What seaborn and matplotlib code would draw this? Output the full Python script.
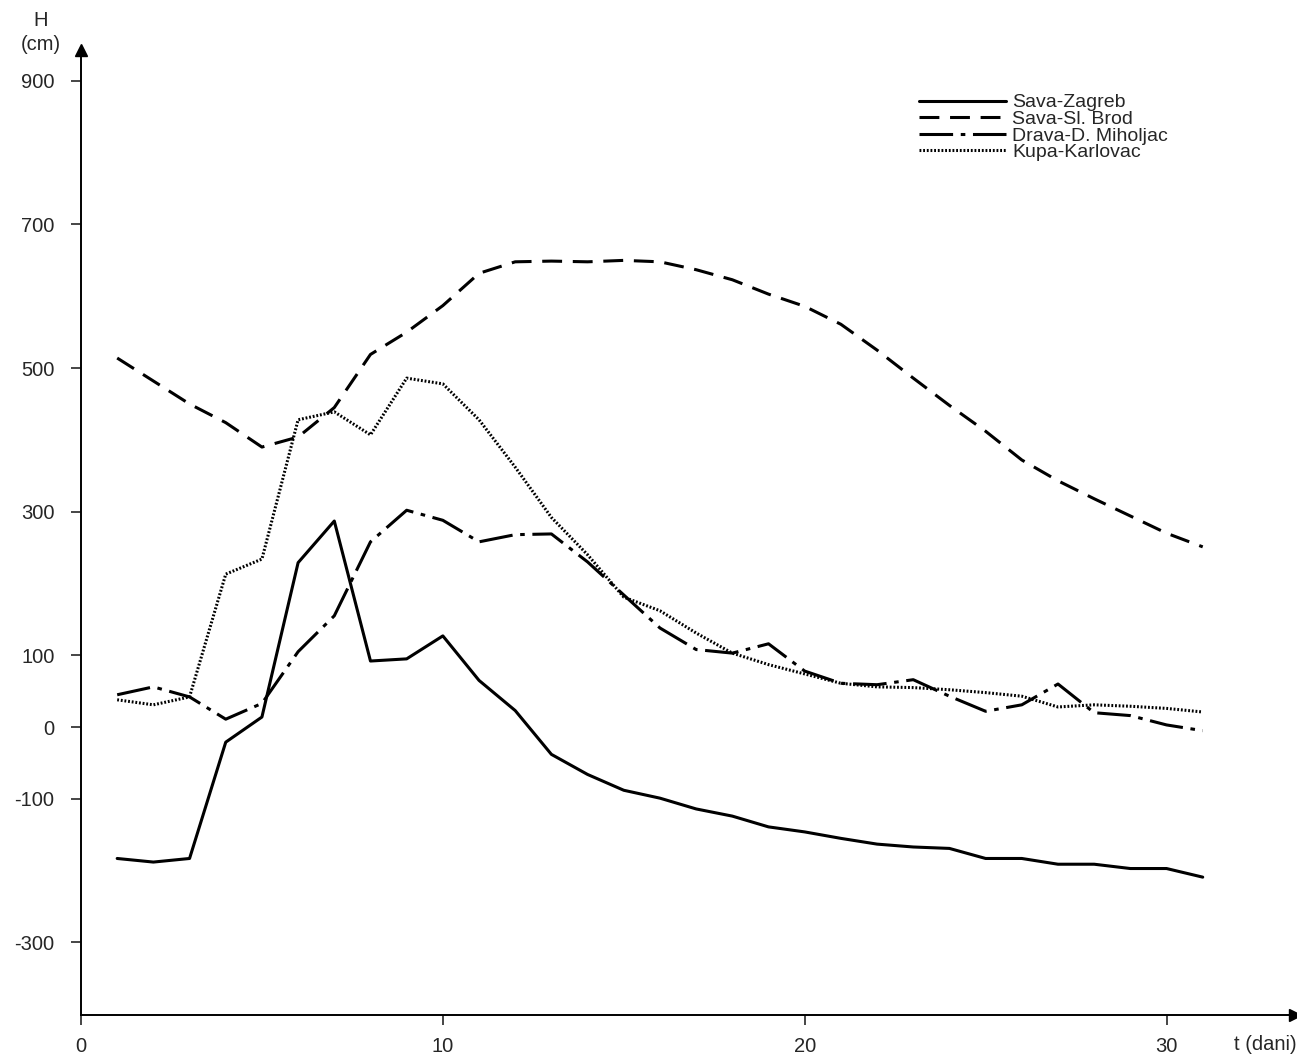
import matplotlib.pyplot as plt
import numpy as np
import pandas as pd
import seaborn as sns

# DATA (water levels, cm)

days = list(range(1, 32))

sava_zagreb = [-183, -188, -183, -21, 14, 229, 287, 92, 95, 127,
               65, 23, -38, -66, -88, -99, -114, -124, -139, -146,
               -155, -163, -167, -169, -183, -183, -191, -191, -197, -197, -209]

sava_brod = [514, 482, 450, 424, 390, 404, 445, 519, 550, 587,
             632, 648, 649, 648, 650, 648, 637, 623, 603, 586,
             561, 525, 486, 448, 412, 372, 343, 318, 294, 270, 251]

drava_miholjac = [45, 56, 42, 11, 33, 105, 155, 258, 302, 288,
                  258, 268, 269, 230, 184, 138, 108, 103, 116, 78,
                  61, 59, 66, 43, 22, 31, 60, 20, 16, 3, -5]

kupa_karlovac = [38, 31, 42, 213, 234, 428, 439, 407, 486, 478,
                 428, 362, 292, 240, 181, 162, 131, 103, 87, 74,
                 61, 56, 55, 52, 48, 43, 28, 31, 29, 26, 21]

stations = ["Sava-Zagreb", "Sava-Sl. Brod", "Drava-D. Miholjac", "Kupa-Karlovac"]
y_ticks = [900, 700, 500, 300, 100, 0, -100, -300]
x_ticks = [0, 10, 20, 30]

# LONG DATAFRAME

df = pd.DataFrame({
    "t": days * 4,
    "H": sava_zagreb + sava_brod + drava_miholjac + kupa_karlovac,
    "station": np.repeat(stations, len(days)),
})

dash_styles = {
    "Sava-Zagreb": "",
    "Sava-Sl. Brod": (6.5, 3.5),
    "Drava-D. Miholjac": (11, 2.5, 1.5, 2.5),
    "Kupa-Karlovac": (0.6, 0.6),
}

sns.set_style("white")
plt.rcParams["font.family"] = ["Liberation Sans", "DejaVu Sans"]
fs = 14.5

fig = plt.figure(figsize=(12.97, 10.55), dpi=100)
ax = fig.add_axes([81 / 1297, 1 - 1015 / 1055, (1295 - 81) / 1297, (1015 - 50) / 1055])

sns.lineplot(data=df, x="t", y="H", style="station", dashes=dash_styles,
             color="black", linewidth=2.2, estimator=None, ax=ax, legend=False)

ax.set_xlim(0, 33.55)
ax.set_ylim(-401, 943)

for s in ["top", "right"]:
    ax.spines[s].set_visible(False)
for s in ["left", "bottom"]:
    ax.spines[s].set_linewidth(1.4)
    ax.spines[s].set_color("black")

ax.set_yticks(y_ticks)
ax.set_yticklabels([str(v) for v in y_ticks], fontsize=fs)
ax.set_xticks(x_ticks)
ax.set_xticklabels([str(v) for v in x_ticks], fontsize=fs)
ax.tick_params(axis="y", direction="out", length=7, width=1.2, left=True, pad=12)
ax.tick_params(axis="x", direction="out", length=7, width=1.2, bottom=True, pad=9)
ax.set_xlabel("")
ax.set_ylabel("")

# arrow heads on axes
ax.plot(0, 1, marker="^", color="black", markersize=9, transform=ax.transAxes, clip_on=False)
ax.plot(1, 0, marker=">", color="black", markersize=9, transform=ax.transAxes, clip_on=False)

# axis labels
fig.text(41 / 1297, 1 - 21 / 1055, "H", ha="center", va="center", fontsize=fs)
fig.text(41 / 1297, 1 - 45 / 1055, "(cm)", ha="center", va="center", fontsize=fs)
fig.text(1265 / 1297, 1 - 1045 / 1055, "t (dani)", ha="center", va="center", fontsize=fs)

# legend
handles = [plt.Line2D([], [], color="black", linewidth=2.2,
                      linestyle=(0, dash_styles[s]) if dash_styles[s] else "-")
           for s in stations]
ax.legend(handles, stations, loc="upper left", bbox_to_anchor=(909 / 1297, 1 - 84 / 1055),
          bbox_transform=fig.transFigure, frameon=False, fontsize=14, handlelength=4.5,
          handletextpad=0.3, labelspacing=-0.05, borderpad=0)

fig.savefig("out.png", dpi=100, facecolor="white")
